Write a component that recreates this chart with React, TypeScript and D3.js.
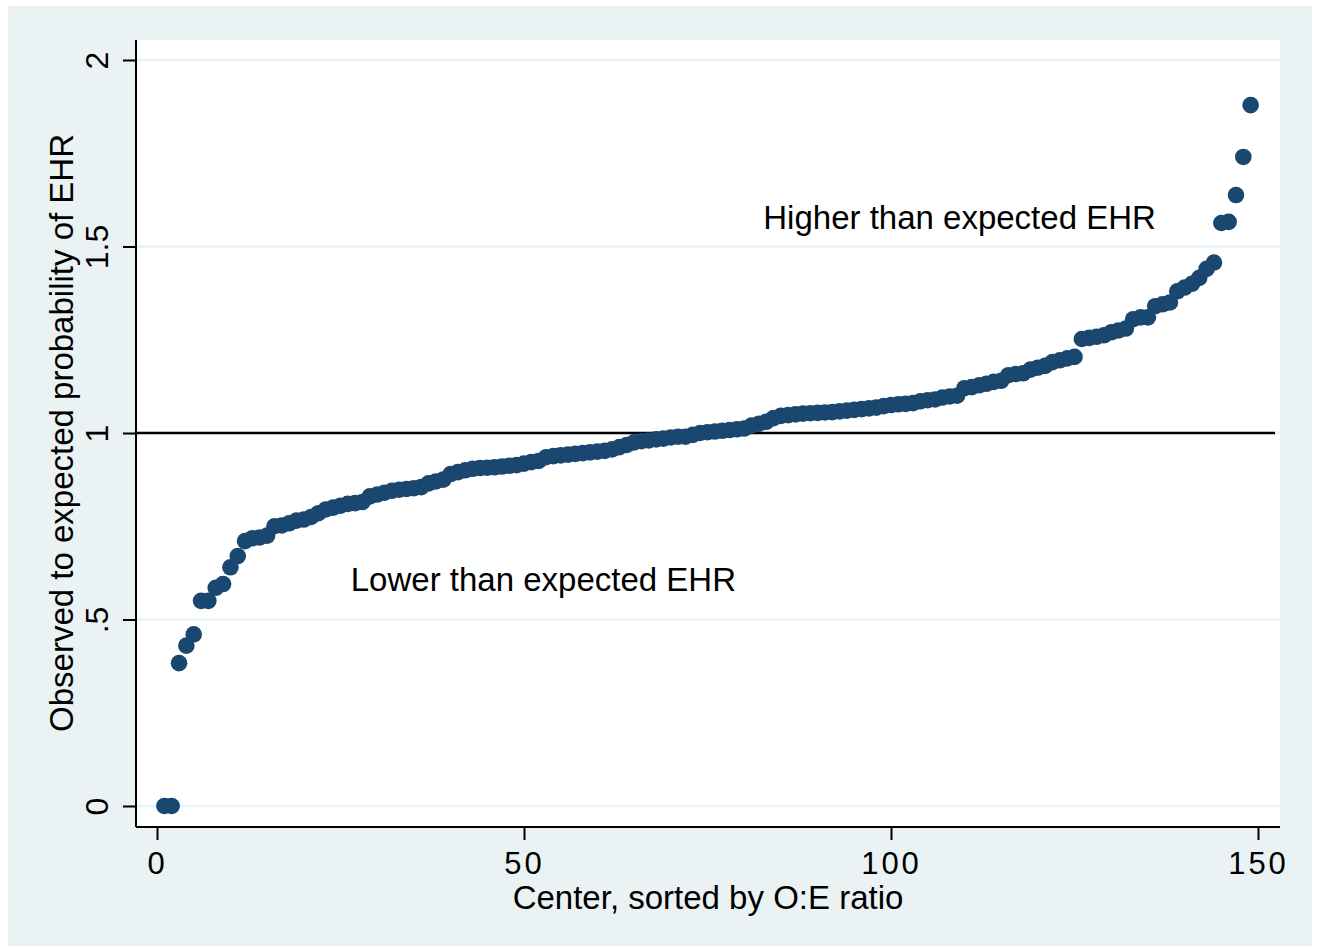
import React from 'react';
import { scaleLinear, select, axisLeft, axisBottom } from 'd3';

// O:E ratio per center, sorted (center rank 1..149)
const ratios = [
  0, 0, 0.383, 0.43, 0.46, 0.55, 0.55, 0.585, 0.595, 0.64,
  0.67, 0.71, 0.718, 0.72, 0.725, 0.75, 0.752, 0.758, 0.765, 0.768,
  0.775, 0.785, 0.795, 0.8, 0.805, 0.81, 0.812, 0.815, 0.83, 0.835,
  0.84, 0.845, 0.848, 0.85, 0.852, 0.855, 0.865, 0.87, 0.875, 0.89,
  0.895, 0.9, 0.904, 0.906, 0.907, 0.908, 0.91, 0.912, 0.914, 0.918,
  0.922, 0.925, 0.935, 0.938, 0.94, 0.942, 0.944, 0.946, 0.948, 0.95,
  0.952, 0.956, 0.962, 0.968, 0.975, 0.978, 0.98, 0.983, 0.985, 0.988,
  0.99, 0.99, 0.995, 1.0, 1.002, 1.004, 1.006, 1.008, 1.01, 1.012,
  1.02, 1.025, 1.03, 1.04, 1.046, 1.048, 1.05, 1.052, 1.053, 1.054,
  1.055, 1.056, 1.058, 1.06, 1.062, 1.064, 1.066, 1.068, 1.072, 1.075,
  1.077, 1.078, 1.08, 1.085, 1.088, 1.09, 1.095, 1.098, 1.1, 1.12,
  1.123, 1.128, 1.132, 1.137, 1.14, 1.155, 1.158, 1.16, 1.17, 1.175,
  1.18, 1.19, 1.195, 1.2, 1.204, 1.252, 1.255, 1.258, 1.262, 1.27,
  1.275, 1.28, 1.305, 1.31, 1.31, 1.34, 1.345, 1.35, 1.38, 1.39,
  1.4, 1.416, 1.44, 1.457, 1.563, 1.566, 1.638, 1.74, 1.879,
];

const xTicks = [0, 50, 100, 150];
const yTicks = [0, 0.5, 1, 1.5, 2];
const yTickLabels = ['0', '.5', '1', '1.5', '2'];

const notes = [
  { text: 'Higher than expected EHR', x: 82.6, y: 1.548 },
  { text: 'Lower than expected EHR', x: 26.4, y: 0.577 },
];

const W = 1318;
const H = 952;
const plot = { left: 136, right: 1280, top: 40, bottom: 827 };
const bg = '#eaf2f3';
const navy = '#1a476f';
const font = '"Liberation Sans", Arial, Helvetica, sans-serif';

const App: React.FC = () => {
  const svgRef = React.useRef<SVGSVGElement>(null);

  const x = scaleLinear().domain([0, 150]).range([157, 1258]);
  const y = scaleLinear().domain([0, 2]).range([806, 60]);

  React.useEffect(() => {
    const svg = select(svgRef.current);
    svg.selectAll('*').remove();

    svg.append('rect').attr('x', 8).attr('y', 6).attr('width', 1304).attr('height', 940).attr('fill', bg);
    svg.append('rect')
      .attr('x', plot.left).attr('y', plot.top)
      .attr('width', plot.right - plot.left).attr('height', plot.bottom - plot.top)
      .attr('fill', '#fff');

    // gridlines
    svg.append('g')
      .selectAll('line')
      .data(yTicks)
      .join('line')
      .attr('x1', plot.left).attr('x2', plot.right)
      .attr('y1', d => y(d)).attr('y2', d => y(d))
      .attr('stroke', bg).attr('stroke-width', 2.5);

    // reference line at 1
    svg.append('line')
      .attr('x1', plot.left).attr('x2', 1275)
      .attr('y1', y(1)).attr('y2', y(1))
      .attr('stroke', '#000').attr('stroke-width', 2.6);

    // points
    svg.append('g')
      .selectAll('circle')
      .data(ratios)
      .join('circle')
      .attr('cx', (_d, i) => x(i + 1))
      .attr('cy', d => y(d))
      .attr('r', 8.3)
      .attr('fill', navy);

    // axes
    const yAxis = axisLeft(y)
      .tickValues(yTicks)
      .tickSize(13)
      .tickPadding(10)
      .tickFormat((_d, i) => yTickLabels[i]);
    const yG = svg.append('g').attr('transform', `translate(${plot.left},0)`).call(yAxis);
    yG.select('.domain').attr('d', `M0,${plot.top}V${plot.bottom}`);
    yG.selectAll('line').attr('stroke', '#000').attr('stroke-width', 2);
    yG.select('.domain').attr('stroke', '#000').attr('stroke-width', 2);
    yG.selectAll('text')
      .attr('font-family', font).attr('font-size', 32).attr('fill', '#000')
      .attr('text-anchor', 'middle')
      .attr('dy', null)
      .attr('x', null)
      .attr('transform', 'translate(-39,0) rotate(-90) translate(0,11)');

    const xAxis = axisBottom(x).tickValues(xTicks).tickSize(13).tickPadding(12).tickFormat(d => `${d}`);
    const xG = svg.append('g').attr('transform', `translate(0,${plot.bottom})`).call(xAxis);
    xG.select('.domain').attr('d', `M${plot.left},0H${plot.right}`).attr('stroke', '#000').attr('stroke-width', 2);
    xG.selectAll('line').attr('stroke', '#000').attr('stroke-width', 2);
    xG.selectAll('text')
      .attr('font-family', font).attr('font-size', 31).attr('fill', '#000')
      .attr('letter-spacing', 3);

    // notes
    svg.append('g')
      .selectAll('text')
      .data(notes)
      .join('text')
      .attr('x', d => x(d.x))
      .attr('y', d => y(d.y))
      .attr('font-family', font).attr('font-size', 33)
      .text(d => d.text);

    // axis titles
    svg.append('text')
      .attr('x', 708).attr('y', 909)
      .attr('text-anchor', 'middle')
      .attr('font-family', font).attr('font-size', 33)
      .text('Center, sorted by O:E ratio');
    svg.append('text')
      .attr('transform', `translate(73,${y(1)}) rotate(-90)`)
      .attr('text-anchor', 'middle')
      .attr('font-family', font).attr('font-size', 33)
      .text('Observed to expected probability of EHR');
  }, []);

  return (
    <svg
      ref={svgRef}
      width={W}
      height={H}
      style={{ position: 'absolute', left: 0, top: 0, background: '#fff' }}
    />
  );
};

export default App;
